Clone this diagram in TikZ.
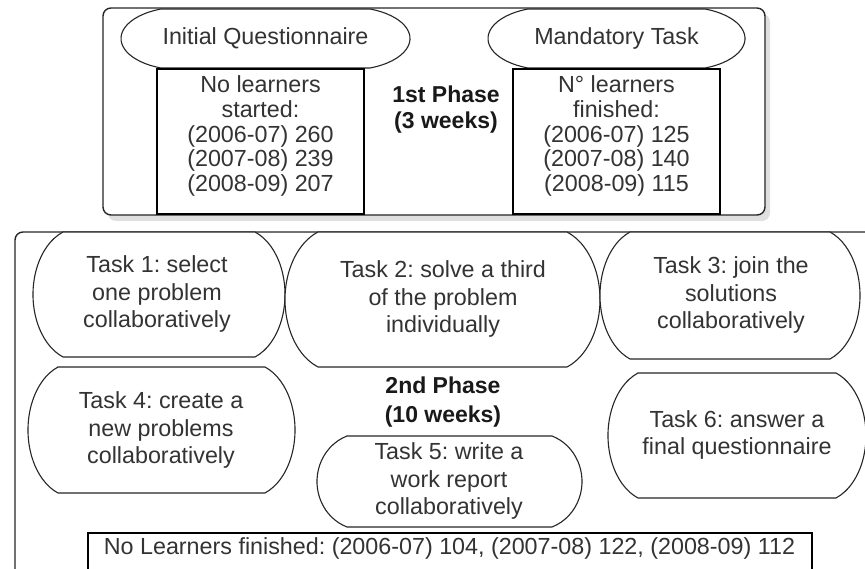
\documentclass[tikz,border=0pt]{standalone}
\usepackage{fontspec}
\setmainfont{Liberation Sans}
\frenchspacing
\usetikzlibrary{shadows}
\newcommand\termshape[6]{%
  \pgfmathsetmacro\tA{#6/(1-cos(70))}%
  \pgfmathsetmacro\tB{(#5-#3)/2/sin(70)}%
  \draw[termline] (#2+#6,568-#3) -- (#4-#6,568-#3)
    arc[start angle=70,end angle=-70,x radius=\tA pt,y radius=\tB pt]
    -- (#2+#6,568-#5)
    arc[start angle=250,end angle=110,x radius=\tA pt,y radius=\tB pt] -- cycle;
  \coordinate (#1) at ({(#2+#4)/2},{568-(#3+#5)/2});
}
\tikzset{
  termline/.style={draw=black!85,line width=1.1pt,fill=white},
  boxline/.style={draw=black,line width=1.4pt,fill=white},
  txt/.style={text=black!80,align=center,font=\fontsize{23.3}{24.8}\selectfont,inner sep=0pt},
  tasktxt/.style={text=black!80,align=center,font=\fontsize{23.3}{27.3}\selectfont,inner sep=0pt},
  phasetxt/.style={text=black!90,align=center,font=\fontsize{23}{26}\selectfont\bfseries,inner sep=0pt},
}
\begin{document}
\begin{tikzpicture}[x=1pt,y=1pt]
\useasboundingbox (0,0) rectangle (865,568);
\clip (0,0) rectangle (865,568);
% top phase box
\draw[boxline,draw=black!85,rounded corners=8pt,drop shadow={shadow xshift=5pt,shadow yshift=-6pt,opacity=0.25}]
  (103,568-8) rectangle (765,568-215);
\termshape{iq}{121}{9}{410}{68}{40}
\node[txt] (iqt) at (iq) {Initial Questionnaire};
\termshape{mt}{488}{9}{745}{68}{40}
\node[txt] (mtt) at (mt) {Mandatory Task};
\draw[boxline] (157,568-69) rectangle (364,568-214);
\node[txt] (nlt) at (260.5,568-136) {No learners\\started:\\(2006-07) 260\\(2007-08) 239\\(2008-09) 207};
\draw[boxline] (513,568-69) rectangle (720,568-214);
\node[txt] (nft) at (616.5,568-136) {N° learners\\finished:\\(2006-07) 125\\(2007-08) 140\\(2008-09) 115};
\node[phasetxt] (p1) at (446,568-110) {1st Phase\\(3 weeks)};
% bottom phase box
\draw[boxline,draw=black!85,rounded corners=8pt] (15,568-232) rectangle (885,568-600);
\termshape{k1}{33}{232}{285}{357}{30}
\node[tasktxt] (k1t) at (157,568-294) {Task 1: select\\one problem\\collaboratively};
\termshape{k2}{285}{232}{600}{367}{33}
\node[tasktxt] (k2t) at (443,568-299) {Task 2: solve a third\\of the problem\\individually};
\termshape{k3}{600}{232}{860}{359}{30}
\node[tasktxt] (k3t) at (731,568-295) {Task 3: join the\\solutions\\collaboratively};
\termshape{k4}{28}{367}{295}{493}{30}
\node[tasktxt] (k4t) at (161,568-430) {Task 4: create a\\new problems\\collaboratively};
\termshape{k5}{317}{436}{582}{527}{30}
\node[tasktxt] (k5t) at (449,568-481) {Task 5: write a\\work report\\collaboratively};
\termshape{k6}{608}{373}{866}{498}{30}
\node[tasktxt] (k6t) at (737,568-435) {Task 6: answer a\\final questionnaire};
\node[phasetxt,font=\fontsize{23}{28.5}\selectfont\bfseries] (p2) at (443,568-402) {2nd Phase\\(10 weeks)};
\draw[boxline] (88,568-533) rectangle (812,568-572);
\node[tasktxt] (lf) at (449.5,568-548) {No Learners finished: (2006-07) 104, (2007-08) 122, (2008-09) 112};
\end{tikzpicture}
\end{document}
